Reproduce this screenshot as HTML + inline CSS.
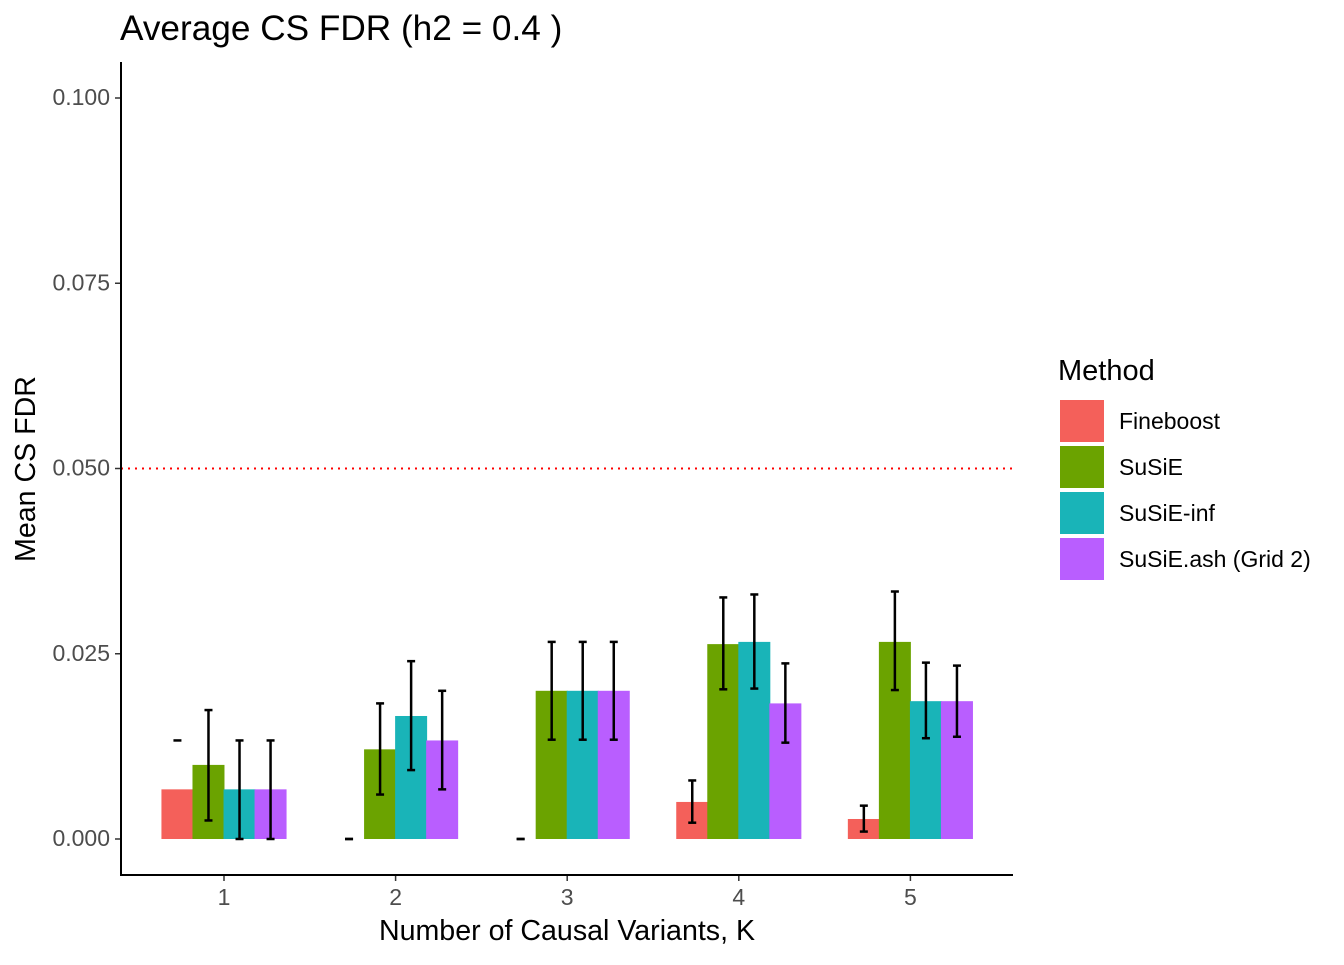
<!DOCTYPE html>
<html><head><meta charset="utf-8"><style>
body{margin:0;background:#fff;font-family:"Liberation Sans",Arial,sans-serif}
</style></head><body>
<svg id="chart" width="1344" height="960" xmlns="http://www.w3.org/2000/svg" font-family="Liberation Sans, Arial, sans-serif">
<text x="120" y="40" font-size="35.2" fill="#000">Average CS FDR (h2 = 0.4 )</text>
<g id="plot"></g>
<line x1="121" y1="62" x2="121" y2="876" stroke="#000" stroke-width="2"/>
<line x1="120" y1="875" x2="1013" y2="875" stroke="#000" stroke-width="2"/>
<text x="567" y="940" font-size="28.6" text-anchor="middle">Number of Causal Variants, K</text>
<text transform="translate(35,469) rotate(-90)" font-size="28.6" text-anchor="middle">Mean CS FDR</text>
<g>
<text x="1058" y="380" font-size="29">Method</text>
</g>
<g id="legend-items"></g>
</svg>
<script>
const categories=["1","2","3","4","5"];
const methods=["Fineboost","SuSiE","SuSiE-inf","SuSiE.ash (Grid 2)"];
const colors=["#F4605A","#6BA300","#19B4B8","#B95EFF"];
const fineboost=[0.0067,0,0,0.005,0.0027];
const susie=[0.01,0.0121,0.02,0.0263,0.0266];
const susieInf=[0.0067,0.0166,0.02,0.0266,0.0186];
const susieAsh=[0.0067,0.0133,0.02,0.0183,0.0186];
const fineboostLo=[null,0,0,0.0022,0.001];
const fineboostHi=[0.0133,0,0,0.0079,0.0045];
const susieLo=[0.0025,0.006,0.0134,0.0202,0.0201];
const susieHi=[0.0174,0.0183,0.0266,0.0326,0.0334];
const susieInfLo=[0,0.0093,0.0134,0.0203,0.0136];
const susieInfHi=[0.0133,0.024,0.0266,0.033,0.0238];
const susieAshLo=[0,0.0067,0.0134,0.013,0.0138];
const susieAshHi=[0.0133,0.02,0.0266,0.0237,0.0234];
const yTicks=[0,0.025,0.05,0.075,0.1];
const yTickLabels=["0.000","0.025","0.050","0.075","0.100"];
const threshold=0.05;
const values=[fineboost,susie,susieInf,susieAsh];
const lows=[fineboostLo,susieLo,susieInfLo,susieAshLo];
const highs=[fineboostHi,susieHi,susieInfHi,susieAshHi];
const NS="http://www.w3.org/2000/svg";
const y=v=>839-v*7410;
const x=i=>224+i*171.6;
const g=document.getElementById('plot');
function mk(t,a,p){const e=document.createElementNS(NS,t);for(const k in a)e.setAttribute(k,a[k]);(p||g).appendChild(e);return e;}
yTicks.forEach((t,i)=>{
 const l=mk('line',{x1:115,x2:121,y1:y(t),y2:y(t),stroke:'#333','stroke-width':1.5});
 
 
 const tx=mk('text',{x:110,y:y(t)+7,'font-size':23,fill:'#4d4d4d','text-anchor':'end'});
 tx.textContent=yTickLabels[i];
 
 
});
categories.forEach((c,i)=>{
 const l=mk('line',{x1:x(i),x2:x(i),y1:875,y2:881,stroke:'#333','stroke-width':1.5});
 
 
 const tx=mk('text',{x:x(i),y:905,'font-size':23,fill:'#4d4d4d','text-anchor':'middle'});
 tx.textContent=c;
 
 
});
const offs=[-48,-16,16,48];
methods.forEach((m,j)=>{
 categories.forEach((c,i)=>{
  const cx=x(i)+offs[j]*0.97, v=values[j][i];
  if(v>0){const r=mk('rect',{x:cx-16,y:y(v),width:32,height:839-y(v),fill:colors[j]});
  
  }
 });
});
methods.forEach((m,j)=>{
 categories.forEach((c,i)=>{
  const ex=x(i)+offs[j]*0.97, lo=lows[j][i], hi=highs[j][i];
  const eg=mk('g',{stroke:'#000','stroke-width':2.5});
  
  
  mk('line',{x1:ex-4,x2:ex+4,y1:y(hi),y2:y(hi)},eg);
  if(lo!==null){mk('line',{x1:ex,x2:ex,y1:y(lo),y2:y(hi)},eg);mk('line',{x1:ex-4,x2:ex+4,y1:y(lo),y2:y(lo)},eg);}
 });
});
const th=mk('line',{x1:121,x2:1013,y1:y(threshold),y2:y(threshold),stroke:'#FF0000','stroke-width':2,'stroke-dasharray':'2,5'});


const lg=document.getElementById('legend-items');
methods.forEach((m,j)=>{
 const yy=400+j*46;
 const r=mk('rect',{x:1060,y:yy,width:44,height:42,fill:colors[j]},lg);
 
 
 const t=mk('text',{x:1119,y:yy+29,'font-size':23},lg);
 t.textContent=m;
 
 
});
</script>
</body></html>
